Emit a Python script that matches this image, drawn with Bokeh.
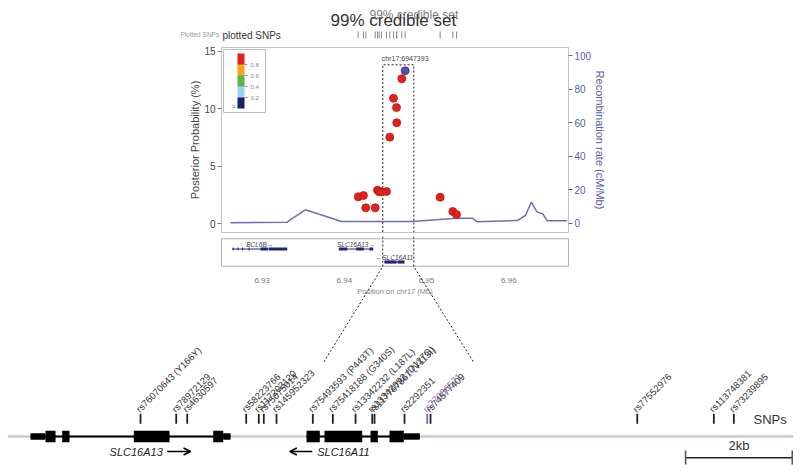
import math
from bokeh.plotting import figure
from bokeh.layouts import column
from bokeh.models import (Range1d, LinearAxis, FixedTicker, ColorBar,
                          LinearColorMapper, Arrow, OpenHead)
from bokeh.core.properties import value
from bokeh.embed import file_html
from bokeh.resources import INLINE

FONT = "Liberation Sans"

# ---------------- data: upper fine-mapping panel ----------------
snp_mb = [6.94168, 6.94232, 6.94260, 6.94375, 6.94403, 6.94423, 6.94451, 6.94512,
          6.94552, 6.94597, 6.94634, 6.94637, 6.94698, 6.95165, 6.95319, 6.95364]
snp_pp = [2.35, 2.46, 1.39, 1.39, 2.92, 2.78, 2.78, 2.80,
          7.53, 10.9, 10.1, 8.78, 12.6, 2.31, 1.07, 0.81]
lead_mb = [6.947393]
lead_pp = [13.3]
lead_name = ["chr17:6947393"]

rec_mb = [6.92614, 6.93304, 6.93344, 6.93527, 6.93965, 6.94825, 6.95372, 6.95555,
          6.95616, 6.96102, 6.96203, 6.96273, 6.96345, 6.96414, 6.96467, 6.96710]
rec_rate = [0.3, 0.6, 2.2, 8.0, 1.0, 1.0, 3.0, 3.0,
            0.8, 1.6, 4.6, 12.5, 6.6, 5.6, 1.4, 1.4]

pp_ticks = [0, 5, 10, 15]
rr_ticks = [0, 20, 40, 60, 80, 100]
mb_ticks = [6.93, 6.94, 6.95, 6.96]
mb_tick_labels = ["6.93", "6.94", "6.95", "6.96"]
r2_colors = ["#1e1e6a", "#9dd2f1", "#5cb54a", "#f6a31c", "#e3211c"]
r2_ticks = [0.2, 0.4, 0.6, 0.8]
zoom_mb = [6.94467, 6.94844]

# gene track (Mb)
track_names = ["BCL6B\u2192", "SLC16A13\u2192", "\u2190SLC16A11"]
track_start = [6.92635, 6.93932, 6.94488]
track_end = [6.93304, 6.94350, 6.94731]
track_row = [0, 0, 1]
texon_gene = [0, 0, 0, 0, 0, 0, 1, 1, 1, 2, 2]
texon_start = [6.92640, 6.92700, 6.92755, 6.92835, 6.92979, 6.93080,
               6.93932, 6.94144, 6.94305, 6.94488, 6.94646]
texon_end = [6.92652, 6.92712, 6.92767, 6.92847, 6.93068, 6.93304,
             6.94034, 6.94236, 6.94350, 6.94634, 6.94731]

# ---------------- data: lower SNP / gene diagram (bp) ----------------
snp_ids = ["rs76070643 (Y166Y)", "rs78972129", "rs4630597", "rs58223766",
           "rs117203120", "rs75075014", "rs145952323", "rs75493593 (P443T)",
           "rs75418188 (G340S)", "rs13342232 (L187L)", "rs13342692 (D127G)",
           "rs117767867 (V113I)", "rs2292351", "rs77086571", "rs74577409",
           "rs77552976", "rs113748381", "rs73239895"]
snp_bp = [6942017, 6942687, 6942893, 6943999, 6944235, 6944329, 6944567, 6945248,
          6945623, 6946049, 6946362, 6946405, 6946967, 6947393, 6947455,
          6951331, 6952767, 6953142]
lead_id = "rs77086571"

backbone_bp = [6939529, 6954256]
gene_names = ["SLC16A13", "SLC16A11"]
gene_span_start = [6939955, 6945130]
gene_span_end = [6943705, 6947254]
cds_start = [6940236, 6940549, 6941892, 6943380, 6945130, 6945467, 6946330, 6946686]
cds_end = [6940424, 6940686, 6942561, 6943568, 6945379, 6946174, 6946467, 6946954]
utr_start = [6939955, 6943568, 6946954]
utr_end = [6940236, 6943705, 6947254]
zoom_bp = [6945449, 6948267]
scale_bp = [6952237, 6954237]
scale_label = "2kb"

# ---------------- layout constants (page pixels) ----------------
W = 796
MB0, MB1 = 6.925049, 6.967263      # main frame x-extent (Mb)
FL, FR = 221, 568                   # main frame page x
K = (FR - FL) / (MB1 - MB0)
MBA0 = MB0 - FL / K
MBA1 = MB1 + (W - FR) / K
BP0, BP1 = 6939392, 6954317

def mb_px(m):
    return FL + (m - MB0) * K

def bp_px(b):
    return (b - BP0) * W / (BP1 - BP0)

def clean(p):
    p.xgrid.grid_line_color = None
    p.ygrid.grid_line_color = None
    p.frame_align = False

DARK = "#333333"
BLUE = "#5a5caa"
HA = 42      # height of top strip
HB = 194     # height of main plot figure
HC = 232     # height of lower figure

# ================= Figure A: top strip =================
pA = figure(width=W, height=HA, x_range=Range1d(0, W), y_range=Range1d(HA, 0),
            x_axis_location=None, y_axis_location=None, min_border=0,
            output_backend="svg", toolbar_location=None)
clean(pA)
pA.outline_line_color = None
pA.extra_x_ranges = {"mb": Range1d(MBA0, MBA1)}
pA.text(x=[330], y=[20], text=["99% credible set"], text_font=value(FONT),
        text_font_size="17px", text_color=DARK, text_baseline="middle")
pA.text(x=[369], y=[14], text=["99% credible set"], text_font=value(FONT),
        text_font_size="12px", text_color="#555555", text_baseline="middle", text_alpha=0.8)
pA.text(x=[180], y=[34], text=["Plotted SNPs"], text_font=value(FONT),
        text_font_size="6.5px", text_color="#999999", text_baseline="middle")
pA.text(x=[222], y=[35], text=["plotted SNPs"], text_font=value(FONT),
        text_font_size="10px", text_color=DARK, text_baseline="middle")
all_mb = snp_mb + lead_mb
pA.segment(x0=all_mb, x1=all_mb, y0=[31] * len(all_mb), y1=[38] * len(all_mb),
           x_range_name="mb", line_color="#8a8a8a", line_width=1)

# ================= Figure B: main plot =================
top_px, bot_px = 47, 232
pp_top = (223.3 - top_px) / 11.507
pp_bot = -(bot_px - 223.3) / 11.507
rr_top = (222.7 - top_px) / 1.677
rr_bot = -(bot_px - 222.7) / 1.677
pB = figure(width=W, height=HB, x_range=Range1d(MB0, MB1), y_range=Range1d(pp_bot, pp_top),
            x_axis_location=None, y_axis_location=None,
            min_border_left=FL, min_border_right=W - FR, min_border_top=top_px - HA,
            min_border_bottom=HA + HB - bot_px, output_backend="svg", toolbar_location=None)
clean(pB)
pB.outline_line_color = "#c4c4c4"
pB.extra_y_ranges = {"rr": Range1d(rr_bot, rr_top)}

ax_l = LinearAxis(ticker=FixedTicker(ticks=pp_ticks), axis_label="Posterior Probability (%)")
ax_r = LinearAxis(ticker=FixedTicker(ticks=rr_ticks), y_range_name="rr",
                  axis_label="Recombination rate (cM/Mb)")
for ax, col in ((ax_l, "#444444"), (ax_r, BLUE)):
    ax.axis_line_color = None
    ax.major_tick_line_color = col if ax is ax_r else "#777777"
    ax.major_tick_out = 4
    ax.major_tick_in = 0
    ax.minor_tick_line_color = None
    ax.major_label_text_font = FONT
    ax.major_label_text_font_size = "10px"
    ax.major_label_text_color = col
    ax.major_label_standoff = 2
    ax.axis_label_text_font = FONT
    ax.axis_label_text_font_size = "11px"
    ax.axis_label_text_font_style = "normal"
    ax.axis_label_text_color = col
    ax.axis_label_standoff = 0
pB.add_layout(ax_l, "left")
pB.add_layout(ax_r, "right")

pB.line(rec_mb, rec_rate, y_range_name="rr", line_color="#6a6fba", line_width=1.5)
z_top = (223.3 - 64.3) / 11.507
pB.line([zoom_mb[0], zoom_mb[0], zoom_mb[1], zoom_mb[1]], [pp_bot - 1, z_top, z_top, pp_bot - 1],
        line_color="#222222", line_dash="2 2", line_width=1)
pB.text(x=lead_mb, y=[(223.3 - 58) / 11.507], text=lead_name, text_font=value(FONT),
        text_font_size="7px", text_color="#444444", text_align="center", text_baseline="middle")
pB.scatter(snp_mb, snp_pp, size=8, fill_color="#e3211c", line_color="#b8191a", line_width=0.8)
pB.scatter(lead_mb, lead_pp, size=8, fill_color="#5b4ea6", line_color="#3e3580", line_width=0.8)

mapper = LinearColorMapper(palette=r2_colors, low=0, high=1)
cb = ColorBar(color_mapper=mapper, ticker=FixedTicker(ticks=r2_ticks), location="top_left",
              width=7, height=55, padding=4, margin=2, title="r\u00b2",
              title_text_font=FONT, title_text_font_size="6px", title_text_font_style="normal",
              title_text_color="#666666", title_standoff=2,
              major_label_text_font=FONT, major_label_text_font_size="6px",
              major_label_text_color="#888888", major_tick_line_color="#999999",
              major_tick_in=0, major_tick_out=3, label_standoff=3,
              bar_line_color=None, border_line_color="#bbbbbb",
              background_fill_color="white")
pB.add_layout(cb)

# ================= Figure C: gene track + lower diagram =================
C0 = HA + HB
pC = figure(width=W, height=HC, x_range=Range1d(0, W), y_range=Range1d(C0 + HC, C0),
            x_axis_location=None, y_axis_location=None, min_border=0,
            output_backend="svg", toolbar_location=None)
clean(pC)
pC.outline_line_color = None
pC.extra_x_ranges = {"mb": Range1d(MBA0, MBA1), "bp": Range1d(BP0, BP1)}

# gene-track panel
pC.quad(left=[FL], right=[FR], top=[238.3], bottom=[265.7], fill_color=None,
        line_color="#b0b0b0", line_width=1)
row_y = [248.5, 261.5]
GT = "#23237a"
ty = [row_y[r] for r in track_row]
pC.segment(x0=track_start, x1=track_end, y0=ty, y1=ty, x_range_name="mb",
           line_color=GT, line_width=1)
ey = [row_y[track_row[g]] for g in texon_gene]
pC.hbar(y=ey, left=texon_start, right=texon_end, height=3.2, x_range_name="mb",
        fill_color=GT, line_color=None)
tmid = [(s + e) / 2 for s, e in zip(track_start, track_end)]
pC.text(x=tmid, y=[v - 5 for v in ty], text=track_names, x_range_name="mb",
        text_font=value(FONT), text_font_size="6.5px", text_font_style="italic",
        text_color="#444444", text_align="center", text_baseline="middle")
pC.text(x=mb_ticks, y=[280] * len(mb_ticks), text=mb_tick_labels, x_range_name="mb",
        text_font=value(FONT), text_font_size="8px", text_color="#777777",
        text_align="center", text_baseline="middle")
pC.text(x=[(FL + FR) / 2], y=[291], text=["Position on chr17 (Mb)"],
        text_font=value(FONT), text_font_size="7.5px", text_color="#888888",
        text_align="center", text_baseline="middle")

# zoom connectors
for zm, zb in zip(zoom_mb, zoom_bp):
    pC.line([mb_px(zm), mb_px(zm), bp_px(zb)], [C0, 266, 362], line_color="#222222",
            line_dash="2 2", line_width=1)

# lower diagram
BY = 436
pC.line(backbone_bp, [BY, BY], x_range_name="bp", line_color="#c9c9d6", line_width=2.5)
pC.segment(x0=gene_span_start, x1=gene_span_end, y0=[BY] * 2, y1=[BY] * 2,
           x_range_name="bp", line_color="black", line_width=2)
pC.hbar(y=[BY] * len(cds_start), left=cds_start, right=cds_end, height=11.6,
        x_range_name="bp", fill_color="black", line_color=None)
pC.hbar(y=[BY] * len(utr_start), left=utr_start, right=utr_end, height=6.4,
        x_range_name="bp", fill_color="black", line_color=None)

snp_cols = ["#7b63c4" if s == lead_id else "#222222" for s in snp_ids]
pC.segment(x0=snp_bp, x1=snp_bp, y0=[413.3] * len(snp_bp), y1=[423.3] * len(snp_bp),
           x_range_name="bp", line_color=snp_cols, line_width=1.8)
lab_cols = ["#8a72d0" if s == lead_id else "#333333" for s in snp_ids]
pC.text(x=snp_bp, y=[410] * len(snp_bp), text=snp_ids, x_range_name="bp",
        angle=math.pi / 4, x_offset=-3, text_font=value(FONT), text_font_size="9.5px",
        text_color=lab_cols, text_align="left", text_baseline="middle")
pC.text(x=[753], y=[418.5], text=["SNPs"], text_font=value(FONT), text_font_size="13px",
        text_color="#333333", text_align="left", text_baseline="middle")

# gene name labels + direction arrows
pC.text(x=[6942435], y=[451], text=[gene_names[0]], x_range_name="bp",
        text_font=value(FONT), text_font_size="11px", text_font_style="italic",
        text_color="#222222", text_align="right", text_baseline="middle")
pC.text(x=[6945330], y=[451], text=[gene_names[1]], x_range_name="bp",
        text_font=value(FONT), text_font_size="11px", text_font_style="italic",
        text_color="#222222", text_align="left", text_baseline="middle")
pC.add_layout(Arrow(end=OpenHead(size=7, line_width=1.5, line_color="black"),
                    x_start=6942518, y_start=451, x_end=6942955, y_end=451,
                    x_range_name="bp", line_width=1.5, line_color="black"))
pC.add_layout(Arrow(end=OpenHead(size=7, line_width=1.5, line_color="black"),
                    x_start=6945237, y_start=451, x_end=6944817, y_end=451,
                    x_range_name="bp", line_width=1.5, line_color="black"))

# scale bar
pC.line(scale_bp, [457.3, 457.3], x_range_name="bp", line_color="#222222", line_width=1.5)
pC.segment(x0=scale_bp, x1=scale_bp, y0=[450, 450], y1=[464, 464], x_range_name="bp",
           line_color="#555555", line_width=1.5)
pC.text(x=[sum(scale_bp) / 2], y=[445], text=[scale_label], x_range_name="bp",
        text_font=value(FONT), text_font_size="13px", text_color="#333333",
        text_align="center", text_baseline="middle")

layout = column(pA, pB, pC, spacing=0)
open("out.html", "w").write(file_html(layout, INLINE))
